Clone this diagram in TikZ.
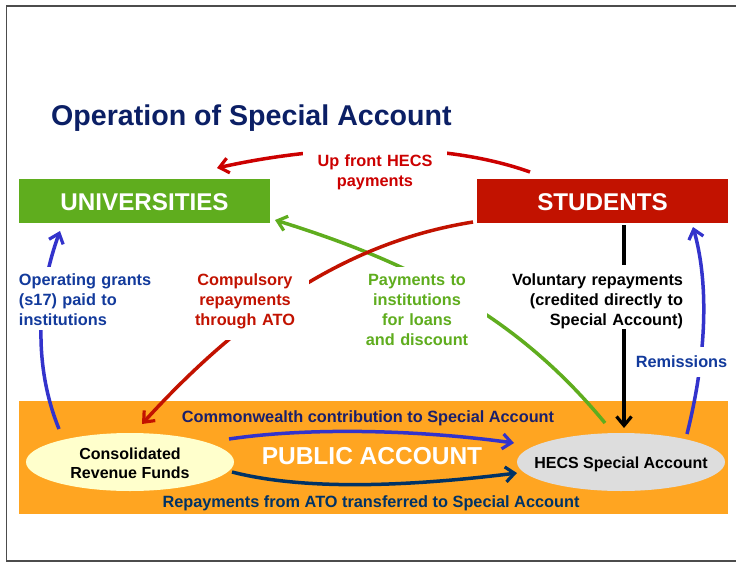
\documentclass[tikz,border=0pt]{standalone}
\usepackage{fontspec}
\setmainfont{Liberation Sans}[BoldFont={* Bold}]
\usetikzlibrary{arrows.meta,shapes.geometric}
\definecolor{titleblue}{HTML}{0B1F65}
\definecolor{uni}{HTML}{5FAD1E}
\definecolor{stu}{HTML}{C21200}
\definecolor{pub}{HTML}{FFA521}
\definecolor{crfc}{HTML}{FFFFCC}
\definecolor{hecsc}{HTML}{DDDDDD}
\definecolor{upred}{HTML}{CC0000}
\definecolor{lblue}{HTML}{123A9C}
\definecolor{arrblue}{HTML}{3333CC}
\definecolor{cwblue}{HTML}{1A1F6B}
\definecolor{navy}{HTML}{003366}
\tikzset{
  x=1pt,y=-1pt,
  flow/.style={line width=3.5pt,-{Straight Barb[length=9pt,width=15pt,line width=3.2pt]}},
  head/.style={minimum width=251pt,minimum height=44pt,inner sep=0pt,text=white,text height=19.4pt,text depth=0pt,font=\fontsize{24.2}{28}\selectfont\bfseries},
  pool/.style={ellipse,minimum width=208pt,minimum height=58pt,inner xsep=-20pt,inner ysep=0pt,text=black,font=\fontsize{16}{19}\selectfont\bfseries,align=center},
  lab/.style={fill=white,inner ysep=0pt,font=\fontsize{16.3}{20}\selectfont\bfseries},
  onpub/.style={inner sep=0pt,font=\fontsize{16.3}{18}\selectfont\bfseries}
}
\begin{document}
\begin{tikzpicture}
\useasboundingbox (0,0) rectangle (736,562);
\fill[white] (0,0) rectangle (736,562);
\draw[line width=1.2pt,color=black!70] (736,6) -- (6.5,6) -- (6.5,561) -- (736,561);
\node[inner sep=0pt,anchor=west,text=titleblue,font=\fontsize{28.6}{34}\selectfont\bfseries] (title) at (51,118) {Operation of Special Account};
\node[head,fill=uni] (universities) at (144.5,201) {UNIVERSITIES};
\node[head,fill=stu] (students) at (602.5,201) {STUDENTS};
\fill[pub] (19,401) rectangle (728,514);
\node[pool,fill=crfc] (crf) at (130,462) {\rule{0pt}{15pt}Consolidated\\Revenue Funds};
\node[pool,fill=hecsc] (hecs) at (621,462) {\rule{0pt}{17.1pt}HECS Special Account};
\node[inner sep=0pt,text=white,font=\fontsize{24.5}{30}\selectfont\bfseries] (public) at (372,456) {PUBLIC ACCOUNT};
\node[onpub,text=cwblue] (cw) at (368,418) {Commonwealth contribution to Special Account};
\node[onpub,text=navy] (rep) at (371,503) {Repayments from ATO transferred to Special Account};
% connectors
\draw[flow,color=uni] ([shift={(-16,-39)}]hecs.center) .. controls (520,320) and (420,265) .. ([shift={(130.5,19)}]universities.center);
\draw[flow,color=stu] ([shift={(-129.5,21)}]students.center) .. controls (360,240) and (255,300) .. ([shift={(12,-38)}]crf.center);
\draw[flow,color=upred] ([shift={(-72.5,-29)}]students.center) .. controls (440,140) and (320,145) .. ([shift={(72.5,-33)}]universities.center);
\draw[flow,color=black] ([shift={(21.5,24)}]students.center) -- ([shift={(3,-34)}]hecs.center);
\draw[flow,color=arrblue] ([shift={(-71,-33)}]crf.center) .. controls (35,370) and (35,300) .. ([shift={(-84.5,30)}]universities.center);
\draw[flow,color=arrblue] ([shift={(66,-28)}]hecs.center) .. controls (708,350) and (708,280) .. ([shift={(90.5,26)}]students.center);
\draw[flow,color=arrblue] ([shift={(99,-23)}]crf.center) .. controls (310,427) and (420,430) .. ([shift={(-107,-19)}]hecs.center);
\draw[flow,color=navy] ([shift={(102,10)}]crf.center) .. controls (310,492) and (420,485) .. ([shift={(-104,11)}]hecs.center);
% labels with white backing over the connectors
\node[lab,text=upred,align=center,inner xsep=0pt,text width=144pt,anchor=north] (upfront) at (375,144) {\rule{0pt}{22.5pt}Up front HECS\\payments\rule[-7pt]{0pt}{1pt}};
\node[lab,text=lblue,align=left,inner xsep=0pt,text width=136pt] (grants) at (87,298) {\rule{0pt}{19pt}Operating grants\\(s17) paid to\\institutions\rule[-4pt]{0pt}{1pt}};
\node[lab,text=stu,align=center,inner xsep=0pt,text width=128pt,anchor=north] (comp) at (245,269) {\rule{0pt}{16pt}Compulsory\\repayments\\through ATO\rule[-15pt]{0pt}{1pt}};
\node[lab,text=uni,align=center,inner xsep=0pt,text width=140pt,anchor=north] (pay) at (417,267) {\rule{0pt}{18pt}Payments to\\institutions\\for loans\\and discount};
\node[lab,text=black,align=right,inner xsep=1pt,text width=172pt] (vol) at (597,297) {\rule{0pt}{20pt}Voluntary repayments\\(credited directly to\\Special Account)\rule[-2pt]{0pt}{1pt}};
\node[lab,text=lblue,align=center,inner xsep=3pt] (rem) at (681.5,362) {\rule{0pt}{20pt}Remissions\rule[-10pt]{0pt}{1pt}};
\end{tikzpicture}
\end{document}
